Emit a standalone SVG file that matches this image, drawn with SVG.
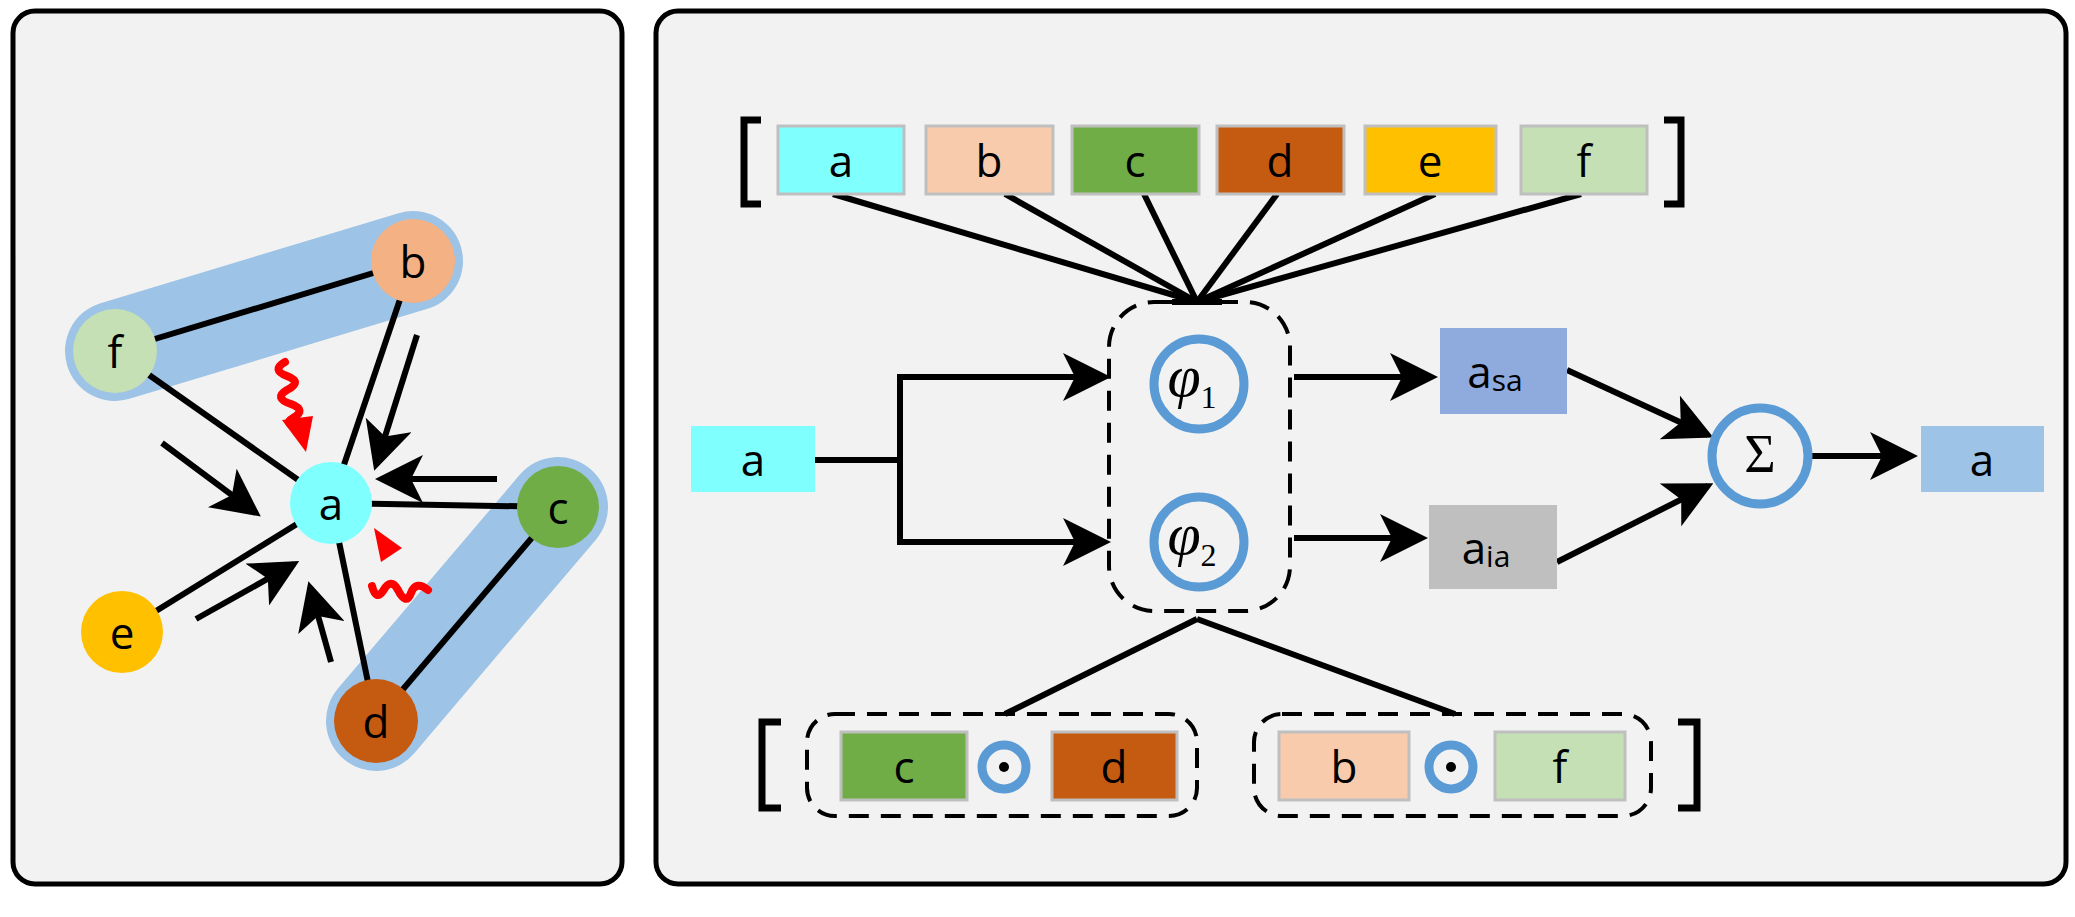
<svg xmlns="http://www.w3.org/2000/svg" width="2075" height="917" viewBox="0 0 2075 917">
<style>
.panel{fill:#f2f2f2;stroke:#000;stroke-width:5}
.t{font-family:"Open Sans","Liberation Sans",sans-serif;font-size:44px;fill:#000;text-anchor:middle;dominant-baseline:central}
.ln{stroke:#000;stroke-width:6;fill:none}
.box{stroke:#bfbfbf;stroke-width:3}
.dash{fill:none;stroke:#000;stroke-width:4;stroke-dasharray:20 12}
.ring{fill:none;stroke:#5b9bd5;stroke-width:9}
.br{fill:none;stroke:#000;stroke-width:7}
.phi{font-family:"Liberation Serif",serif;font-style:italic;font-size:60px;text-anchor:middle}
.sq{fill:none;stroke:#f00;stroke-width:8;stroke-linecap:round}
</style>
<defs>
<marker id="ar" markerWidth="8" markerHeight="8" refX="7" refY="4" orient="auto" markerUnits="strokeWidth"><path d="M0,0 L8,4 L0,8 L2,4 Z" fill="#000"/></marker>
</defs>
<rect class="panel" x="13" y="11" width="609" height="873" rx="22"/>
<rect class="panel" x="656" y="11" width="1410" height="873" rx="22"/>

<g id="capsules" stroke="#9dc3e6" stroke-linecap="round" stroke-width="100">
<line x1="115" y1="351" x2="413" y2="261"/>
<line x1="558" y1="507" x2="376" y2="721"/>
</g>
<g id="connectors">
<g class="ln">
<line x1="115" y1="351" x2="413" y2="261"/>
<line x1="558" y1="507" x2="376" y2="721"/>
<line x1="413" y1="261" x2="331" y2="503"/>
<line x1="115" y1="351" x2="331" y2="503"/>
<line x1="558" y1="507" x2="331" y2="503"/>
<line x1="122" y1="632" x2="331" y2="503"/>
<line x1="376" y1="721" x2="331" y2="503"/>
<line x1="417" y1="335" x2="376" y2="465" marker-end="url(#ar)"/>
<line x1="497" y1="479" x2="381" y2="479" marker-end="url(#ar)"/>
<line x1="162" y1="443" x2="256" y2="513" marker-end="url(#ar)"/>
<line x1="196" y1="619" x2="294" y2="564" marker-end="url(#ar)"/>
<line x1="331" y1="662" x2="310" y2="587" marker-end="url(#ar)"/>
</g>
<g id="red-arrows">
<path class="sq" d="M285,362 q-14,8 2,14 q16,6 0,14 q-14,8 4,14 q16,6 2,14 q-8,4 0,8"/>
<polygon points="282,420 313,416 306,452" fill="#f00"/>
<path class="sq" d="M428,590 q-12,-10 -17,3 q-5,13 -13,-3 q-7,-13 -15,1 q-7,10 -11,-5"/>
<polygon points="374,528 402,548 381,562" fill="#f00"/>
</g>
<g class="ln">
<line x1="833" y1="194" x2="1197" y2="302"/>
<line x1="1005" y1="194" x2="1197" y2="302"/>
<line x1="1144" y1="194" x2="1197" y2="302"/>
<line x1="1277" y1="194" x2="1197" y2="302"/>
<line x1="1435" y1="194" x2="1197" y2="302"/>
<line x1="1581" y1="194" x2="1197" y2="302"/>
<line x1="1172" y1="302" x2="1222" y2="302"/>
<polyline points="815,460 900,460"/>
<polyline points="1105,377 900,377 900,542 1105,542" marker-end="url(#ar)"/>
<line x1="900" y1="377" x2="1105" y2="377" marker-end="url(#ar)"/>
<line x1="1294" y1="377" x2="1432" y2="377" marker-end="url(#ar)"/>
<line x1="1294" y1="538" x2="1422" y2="538" marker-end="url(#ar)"/>
<line x1="1567" y1="370" x2="1708" y2="435" marker-end="url(#ar)"/>
<line x1="1557" y1="562" x2="1708" y2="486" marker-end="url(#ar)"/>
<line x1="1812" y1="456" x2="1912" y2="456" marker-end="url(#ar)"/>
<line x1="1197" y1="619" x2="1005" y2="714"/>
<line x1="1197" y1="619" x2="1455" y2="714"/>
</g>
</g>

<g id="node-b"><circle cx="413" cy="261" r="42" fill="#f4b183"/><text class="t" x="413" y="261">b</text></g>
<g id="node-f"><circle cx="115" cy="351" r="42" fill="#c5e0b4"/><text class="t" x="115" y="351">f</text></g>
<g id="node-a"><circle cx="331" cy="503" r="41" fill="#80ffff"/><text class="t" x="331" y="503">a</text></g>
<g id="node-c"><circle cx="558" cy="507" r="41" fill="#70ad47"/><text class="t" x="558" y="507">c</text></g>
<g id="node-e"><circle cx="122" cy="632" r="41" fill="#ffc000"/><text class="t" x="122" y="632">e</text></g>
<g id="node-d"><circle cx="376" cy="721" r="42" fill="#c55a11"/><text class="t" x="376" y="721">d</text></g>

<g id="top-list">
<path class="br" d="M761,120 H744 V204 H761"/>
<path class="br" d="M1664,120 H1681 V204 H1664"/>
<rect class="box" x="778" y="126" width="126" height="68" fill="#80ffff"/><text class="t" x="841" y="160">a</text>
<rect class="box" x="926" y="126" width="127" height="68" fill="#f8cbad"/><text class="t" x="989" y="160">b</text>
<rect class="box" x="1072" y="126" width="127" height="68" fill="#70ad47"/><text class="t" x="1135" y="160">c</text>
<rect class="box" x="1217" y="126" width="127" height="68" fill="#c55a11"/><text class="t" x="1280" y="160">d</text>
<rect class="box" x="1365" y="126" width="131" height="68" fill="#ffc000"/><text class="t" x="1430" y="160">e</text>
<rect class="box" x="1521" y="126" width="126" height="68" fill="#c5e0b4"/><text class="t" x="1584" y="160">f</text>
</g>
<g id="phi-group">
<rect class="dash" x="1109" y="302" width="181" height="309" rx="45"/>
<circle class="ring" cx="1199" cy="384" r="45"/>
<text class="phi" x="1192" y="396">φ<tspan font-size="32" font-style="normal" dy="12">1</tspan></text>
<circle class="ring" cx="1199" cy="542" r="45"/>
<text class="phi" x="1192" y="554">φ<tspan font-size="32" font-style="normal" dy="12">2</tspan></text>
</g>
<g id="input-a"><rect x="691" y="426" width="124" height="66" fill="#80ffff"/><text class="t" x="753" y="459">a</text></g>
<g id="a-sa"><rect x="1440" y="328" width="127" height="86" fill="#8faadc"/><text class="t" x="1495" y="371">a<tspan font-size="30" dy="8">sa</tspan></text></g>
<g id="a-ia"><rect x="1429" y="505" width="128" height="84" fill="#bfbfbf"/><text class="t" x="1486" y="547">a<tspan font-size="30" dy="8">ia</tspan></text></g>
<g id="sum"><circle class="ring" cx="1760" cy="456" r="48"/><text x="1760" y="472" font-family="Liberation Serif,serif" font-size="54" text-anchor="middle">Σ</text></g>
<g id="output-a"><rect x="1921" y="426" width="123" height="66" fill="#9dc3e6"/><text class="t" x="1982" y="459">a</text></g>

<g id="bottom-list">
<path class="br" d="M781,722 H762 V808 H781"/>
<path class="br" d="M1678,722 H1697 V808 H1678"/>
<g id="pair-cd">
<rect class="dash" x="807" y="714" width="390" height="102" rx="28"/>
<rect class="box" x="841" y="732" width="126" height="68" fill="#70ad47"/><text class="t" x="904" y="766">c</text>
<circle class="ring" cx="1004" cy="767" r="22"/><circle cx="1004" cy="767" r="5"/>
<rect class="box" x="1052" y="732" width="125" height="68" fill="#c55a11"/><text class="t" x="1114" y="766">d</text>
</g>
<g id="pair-bf">
<rect class="dash" x="1254" y="714" width="397" height="102" rx="28"/>
<rect class="box" x="1279" y="732" width="130" height="68" fill="#f8cbad"/><text class="t" x="1344" y="766">b</text>
<circle class="ring" cx="1451" cy="767" r="22"/><circle cx="1451" cy="767" r="5"/>
<rect class="box" x="1495" y="732" width="130" height="68" fill="#c5e0b4"/><text class="t" x="1560" y="766">f</text>
</g>
</g>
</svg>
